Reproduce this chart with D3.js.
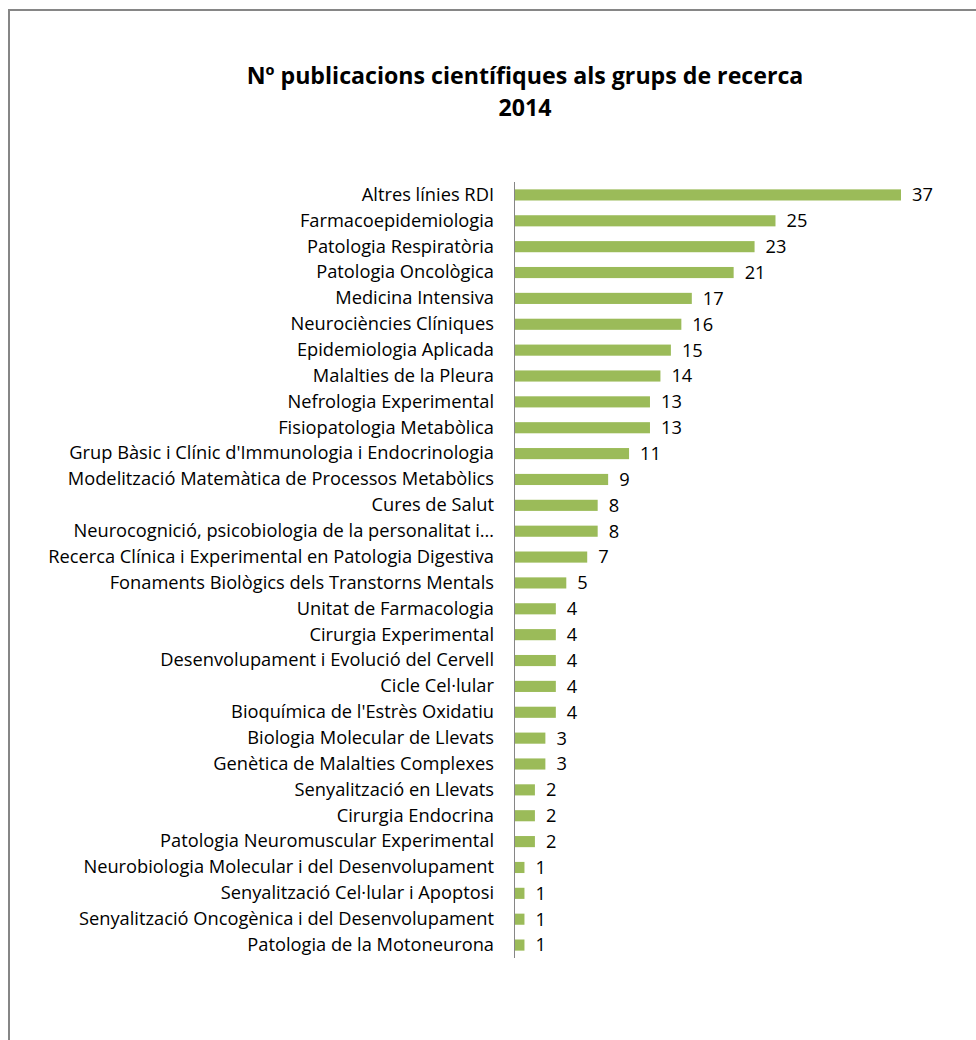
<!DOCTYPE html>
<html>
<head>
<meta charset="utf-8">
<script src="https://cdn.jsdelivr.net/npm/d3@7"></script>
<style>
body { margin: 0; background: #fff; }
svg { font-family: "Open Sans", Lato, sans-serif; }
</style>
</head>
<body>
<div id="body"></div>
<script>
// data
var groups = [
	"Altres línies RDI",
	"Farmacoepidemiologia",
	"Patologia Respiratòria",
	"Patologia Oncològica",
	"Medicina Intensiva",
	"Neurociències Clíniques",
	"Epidemiologia Aplicada",
	"Malalties de la Pleura",
	"Nefrologia Experimental",
	"Fisiopatologia Metabòlica",
	"Grup Bàsic i Clínic d'Immunologia i Endocrinologia",
	"Modelització Matemàtica de Processos Metabòlics",
	"Cures de Salut",
	"Neurocognició, psicobiologia de la personalitat i…",
	"Recerca Clínica i Experimental en Patologia Digestiva",
	"Fonaments Biològics dels Transtorns Mentals",
	"Unitat de Farmacologia",
	"Cirurgia Experimental",
	"Desenvolupament i Evolució del Cervell",
	"Cicle Cel·lular",
	"Bioquímica de l'Estrès Oxidatiu",
	"Biologia Molecular de Llevats",
	"Genètica de Malalties Complexes",
	"Senyalització en Llevats",
	"Cirurgia Endocrina",
	"Patologia Neuromuscular Experimental",
	"Neurobiologia Molecular i del Desenvolupament",
	"Senyalització Cel·lular i Apoptosi",
	"Senyalització Oncogènica i del Desenvolupament",
	"Patologia de la Motoneurona"
];
var publications = [37, 25, 23, 21, 17, 16, 15, 14, 13, 13, 11, 9, 8, 8, 7, 5, 4, 4, 4, 4, 4, 3, 3, 2, 2, 2, 1, 1, 1, 1];
var titleLines = ["Nº publicacions científiques als grups de recerca", "2014"];

var W = 976, H = 1040;
var svg = d3.select("#body").append("svg").attr("width", W).attr("height", H);

// chart border (runs off the right/bottom edge)
svg.append("rect").attr("x", 9).attr("y", 10).attr("width", 1000).attr("height", 1100)
	.attr("fill", "none").attr("stroke", "#868686").attr("stroke-width", 2);

var x0 = 514;
var xScale = d3.scaleLinear().domain([0, 37]).range([x0, 901]);
var yScale = d3.scaleBand().domain(groups).range([182, 958]).paddingInner(0.57).paddingOuter(0.285);

var titles = svg.selectAll(".title").data(titleLines).enter().append("text")
	.attr("class", "title")
	.attr("x", 525).attr("y", function(d, i){ return 84 + i * 32; })
	.attr("text-anchor", "middle")
	.attr("font-size", 22).attr("font-weight", "bold").attr("fill", "#000")
	.text(function(d){ return d; });
// fit the title width to the reference (~557px)
var tw = titles.node().getComputedTextLength();
titles.attr("font-size", 22 * 557 / tw);

var data = groups.map(function(g, i){ return {name: g, value: publications[i]}; });

svg.selectAll(".bar").data(data).enter().append("rect")
	.attr("class", "bar")
	.attr("x", x0)
	.attr("y", function(d){ return yScale(d.name); })
	.attr("width", function(d){ return xScale(d.value) - x0; })
	.attr("height", yScale.bandwidth())
	.attr("fill", "#9bbb59");

// category axis
var yAxis = d3.axisLeft(yScale).tickSize(0).tickPadding(20);
var ga = svg.append("g").attr("transform", "translate(" + x0 + ",0)").call(yAxis);
ga.select(".domain").attr("stroke", "#868686").attr("d", "M0.5,182V958");
var labels = ga.selectAll("text").attr("font-size", 16).attr("fill", "#000")
	.attr("font-family", "'Open Sans', Lato, sans-serif");
// fit longest label to ~446px
var maxW = d3.max(labels.nodes(), function(n){ return n.getComputedTextLength(); });
var fs = 16 * 446 / maxW;
labels.attr("font-size", fs);

// value labels
svg.selectAll(".val").data(data).enter().append("text")
	.attr("class", "val")
	.attr("x", function(d){ return xScale(d.value) + 11; })
	.attr("y", function(d){ return yScale(d.name) + yScale.bandwidth() / 2; })
	.attr("dy", "0.35em")
	.attr("font-size", fs).attr("fill", "#000")
	.text(function(d){ return d.value; });
</script>
</body>
</html>
